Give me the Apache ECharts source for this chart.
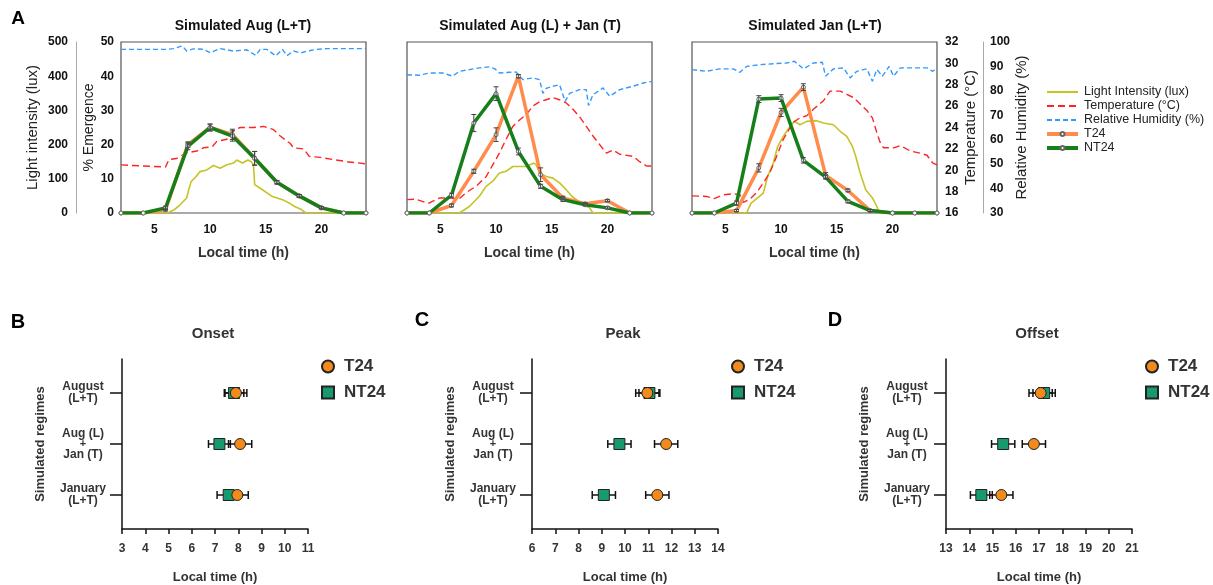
<!DOCTYPE html>
<html>
<head>
<meta charset="utf-8">
<script src="https://cdn.jsdelivr.net/npm/echarts@6.0.0/dist/echarts.min.js"></script>
<style>
html,body{margin:0;padding:0;background:#fff}
#chart{width:1213px;height:585px}
</style>
</head>
<body>
<div id="chart"></div>
<script>
// ---- panel A: emergence profiles, sampled every 2 h ----
const hours = [2, 4, 6, 8, 10, 12, 14, 16, 18, 20, 22, 24];

const augT24     = [0, 0, 1, 20, 25, 23, 16, 9, 5, 1.5, 0, 0];
const augT24Err  = [0, 0, 0.4, 0.8, 1, 1.5, 2, 0.5, 0.4, 0.3, 0, 0];
const augNT24    = [0, 0, 1.5, 19.5, 25, 22.5, 16, 9, 5, 1.5, 0, 0];
const augNT24Err = [0, 0, 0.5, 1, 1, 1.5, 2, 0.5, 0.4, 0.3, 0, 0];

const mixT24     = [0, 0, 2.2, 12.2, 22.9, 40, 11.2, 4.4, 2.7, 3.6, 0, 0];
const mixT24Err  = [0, 0, 0.4, 0.6, 2, 0.5, 2, 0.5, 0.3, 0.3, 0, 0];
const mixNT24    = [0, 0, 5.2, 26.3, 34.9, 18, 7.8, 3.9, 2.4, 1.5, 0, 0];
const mixNT24Err = [0, 0, 0.6, 2.5, 2, 1, 0.6, 0.5, 0.3, 0.3, 0, 0];

const janT24     = [0, 0, 0.7, 13.2, 29.4, 36.8, 11, 6.6, 0.7, 0, 0, 0];
const janT24Err  = [0, 0, 0.3, 1.2, 1.2, 1, 0.8, 0.4, 0.3, 0, 0, 0];
const janNT24    = [0, 0, 2.9, 33.3, 33.6, 15.4, 10.5, 3.4, 0.7, 0, 0, 0];
const janNT24Err = [0, 0, 0.6, 1, 1, 0.8, 0.6, 0.4, 0.3, 0, 0, 0];

// ---- panel A: environmental traces [hour, value] ----
const augLight = [[2,0],[6.2,0],[6.8,10],[7.3,24],[7.9,44],[8.1,70],[8.3,92],[8.7,105],[9.1,121],[9.7,126],[10.3,139],[10.9,131],[11.5,141],[12.1,146],[12.4,155],[12.9,146],[13.4,155],[13.7,150],[13.9,140],[14.0,83],[14.7,68],[15.6,48],[16.5,39],[17.1,29],[17.6,19],[18.2,10],[18.6,0],[24,0]];
const augTemp = [[2,20.5],[4,20.4],[6,20.3],[6.3,21],[7,21.1],[7.8,21.6],[8.8,21.8],[9.4,22.1],[10.2,22.2],[10.6,22.7],[11.5,22.9],[12.1,23.7],[12.7,24],[13.9,24],[14.8,24.1],[15.7,23.8],[16.3,23.2],[16.8,22.8],[17.2,22.5],[17.5,22.1],[18.4,22],[18.9,21.3],[19.9,21.2],[21.1,21],[22.3,20.8],[24,20.6]];
const augHum = [[2,97],[4,97],[6.1,97],[6.7,97.3],[7.5,98.4],[7.9,96.3],[8.5,97.2],[9.4,97],[10,95.6],[10.9,97.3],[12.1,96.3],[13.3,96.8],[14.1,94.5],[14.5,97],[15.1,97],[15.9,94.3],[16.5,97],[16.9,94.4],[17.5,96.3],[18.1,95.5],[18.7,96.3],[19.6,97],[20.5,97.3],[21.7,97.3],[24,97.3]];

const mixLight = [[2,0],[6.7,0],[7.6,19],[8.5,49],[9.1,78],[9.7,93],[10.3,117],[10.9,122],[11.5,136],[12.1,136],[12.7,136],[13.4,146],[13.6,141],[13.9,117],[14.5,107],[15.1,102],[15.7,88],[16.3,68],[16.8,49],[17.2,39],[17.8,24],[18.4,15],[18.7,0],[24,0]];
const mixTemp = [[2,17.25],[2.8,17.3],[3.9,16.9],[4.9,17.4],[6,17.4],[6.6,17.25],[7.3,17.9],[8.2,18.5],[9.1,19.4],[9.7,20.5],[10.3,21.6],[10.9,22.9],[11.5,24.1],[12.1,24.7],[12.7,25.2],[13.3,26],[13.9,26.4],[14.5,26.6],[15.1,26.8],[15.7,26.6],[16.3,26.3],[16.9,25.7],[17.5,25],[18.1,24.1],[18.7,23.2],[19.3,22.4],[19.9,21.6],[20.5,21.9],[21.1,21.5],[22.3,21.3],[22.9,20.8],[23.5,20.4],[24,20.4]];
const mixHum = [[2,86.6],[3.1,86.4],[4,87.3],[5.2,87.3],[6.1,86],[6.7,88],[7.6,88.7],[8.5,89.4],[9.4,89.8],[9.9,89],[10.3,87.3],[11.2,87.6],[11.8,87.7],[12.4,84.6],[13.3,85.3],[13.9,84.6],[14.2,79],[14.5,81],[15.1,81.9],[15.7,82.5],[16.2,75.7],[16.6,79],[17.5,80.5],[18.1,80.5],[18.3,74],[18.7,78.4],[19.6,81.2],[20.2,77.8],[21.1,80.5],[22.3,81.9],[23.2,83.2],[24,83.9]];

const janLight = [[2,0],[6.9,0],[7.3,29],[7.9,44],[8.4,58],[8.8,107],[9.3,146],[9.7,195],[10.2,224],[10.8,253],[11.2,268],[11.7,258],[12.3,268],[13.2,270],[13.8,263],[14.7,258],[15.3,239],[15.9,224],[16.4,195],[16.7,166],[17.1,117],[17.6,68],[18.2,44],[18.6,19],[18.8,0],[24,0]];
const janTemp = [[2,17.6],[3.3,17.55],[4,17.35],[4.8,17.7],[5.7,17.8],[6.3,17.7],[6.6,17],[7.2,17.3],[7.8,17.9],[8.4,18.8],[9,19.8],[9.6,21.3],[10.2,22.9],[11.1,24.5],[11.7,24.9],[12.3,25.1],[12.9,25.7],[13.8,26.5],[14.4,27.4],[15.3,27.4],[15.9,27.1],[16.5,26.8],[17.1,26.2],[17.7,25.6],[18.2,24.9],[18.6,23.5],[18.9,22.6],[19.2,22.1],[20.1,22.1],[20.7,22.3],[21.6,21.8],[22.5,21.6],[23.1,21.4],[23.6,20.7],[24,20.5]];
const janHum = [[2,88.7],[3.3,88],[4.5,89],[5.7,89],[6.3,87.6],[6.9,90],[8.1,90.7],[9.3,91.1],[10.5,91.4],[11.2,92.1],[12,89],[12.9,91.4],[13.7,91.7],[14,86],[14.7,89],[15.6,89.4],[16.2,85.3],[16.8,88],[17.7,89],[18.2,83.9],[18.6,88.7],[19.1,86],[19.7,90],[20.1,86],[20.7,89.4],[21.9,89.4],[23.1,89.4],[23.6,88],[24,89.4]];

// ---- panels B-D: onset / peak / offset (mean, s.e.) ----
const regimes = ['August\n(L+T)', 'Aug (L)\n+\nJan (T)', 'January\n(L+T)'];
const onsetT24   = [7.9, 8.08, 7.96];  const onsetT24Err   = [0.47, 0.5, 0.47];
const onsetNT24  = [7.82, 7.19, 7.59]; const onsetNT24Err  = [0.42, 0.47, 0.5];
const peakT24    = [10.96, 11.77, 11.39]; const peakT24Err  = [0.5, 0.5, 0.5];
const peakNT24   = [11.05, 9.76, 9.09];  const peakNT24Err = [0.45, 0.5, 0.5];
const offsetT24  = [17.07, 16.78, 15.38]; const offsetT24Err  = [0.5, 0.5, 0.5];
const offsetNT24 = [17.22, 15.46, 14.52]; const offsetNT24Err = [0.48, 0.5, 0.47];

const FONT = 'Liberation Sans, Arial, sans-serif';
const C_LIGHT = '#c4c426', C_TEMP = '#ff2424', C_HUM = '#3399ff';
const C_T24 = '#ff8c4d', C_NT24 = '#15801a';
const C_DOT_T = '#f28a1c', C_DOT_N = '#179a6c';

const panelsA = [
  {left: 121, env: [augLight, augTemp, augHum], t: augT24, te: augT24Err, n: augNT24, ne: augNT24Err},
  {left: 407, env: [mixLight, mixTemp, mixHum], t: mixT24, te: mixT24Err, n: mixNT24, ne: mixNT24Err},
  {left: 692, env: [janLight, janTemp, janHum], t: janT24, te: janT24Err, n: janNT24, ne: janNT24Err}
];
const panelsB = [
  {left: 122, min: 3,  t: onsetT24,  te: onsetT24Err,  n: onsetNT24,  ne: onsetNT24Err,  tag: 'B'},
  {left: 532, min: 6,  t: peakT24,   te: peakT24Err,   n: peakNT24,   ne: peakNT24Err,   tag: 'C'},
  {left: 946, min: 13, t: offsetT24, te: offsetT24Err, n: offsetNT24, ne: offsetNT24Err, tag: 'D'}
];

const grid = [], xAxis = [], yAxis = [], series = [];
const boldLbl = {fontFamily: FONT, fontWeight: 'bold', fontSize: 12, color: '#111'};
const nameStyle = {fontFamily: FONT, fontWeight: 'normal', fontSize: 15, color: '#222'};

function vErrSeries(xi, yi, means, errs) {
  return {
    type: 'custom', xAxisIndex: xi, yAxisIndex: yi, z: 6, silent: true,
    encode: {x: 0, y: [1, 2]},
    data: hours.map((h, i) => [h, means[i] - errs[i], means[i] + errs[i]]).filter((d, i) => errs[i] > 0),
    renderItem(params, api) {
      const lo = api.coord([api.value(0), api.value(1)]);
      const hi = api.coord([api.value(0), api.value(2)]);
      const w = 2.5, st = {stroke: '#444', lineWidth: 1};
      return {type: 'group', children: [
        {type: 'line', shape: {x1: lo[0], y1: lo[1], x2: hi[0], y2: hi[1]}, style: st},
        {type: 'line', shape: {x1: lo[0] - w, y1: lo[1], x2: lo[0] + w, y2: lo[1]}, style: st},
        {type: 'line', shape: {x1: hi[0] - w, y1: hi[1], x2: hi[0] + w, y2: hi[1]}, style: st}
      ]};
    }
  };
}

function hErrSeries(xi, yi, means, errs) {
  return {
    type: 'custom', xAxisIndex: xi, yAxisIndex: yi, z: 2, silent: true,
    encode: {x: [0, 1], y: 2},
    data: means.map((m, i) => [m - errs[i], m + errs[i], 2 + 3 * i]),
    renderItem(params, api) {
      const a = api.coord([api.value(0), api.value(2)]);
      const b = api.coord([api.value(1), api.value(2)]);
      const h = 4, st = {stroke: '#111', lineWidth: 1.5};
      return {type: 'group', children: [
        {type: 'line', shape: {x1: a[0], y1: a[1], x2: b[0], y2: b[1]}, style: st},
        {type: 'line', shape: {x1: a[0], y1: a[1] - h, x2: a[0], y2: a[1] + h}, style: st},
        {type: 'line', shape: {x1: b[0], y1: b[1] - h, x2: b[0], y2: b[1] + h}, style: st}
      ]};
    }
  };
}

panelsA.forEach((p, g) => {
  grid.push({left: p.left, top: 42, width: 245, height: 171, show: true,
    borderColor: '#555', borderWidth: 1.2, backgroundColor: 'transparent'});
  xAxis.push({gridIndex: g, type: 'value', min: 2, max: 24,
    axisLine: {show: false}, axisTick: {show: false}, splitLine: {show: false},
    axisLabel: Object.assign({customValues: [5, 10, 15, 20], margin: 11}, boldLbl),
    name: 'Local time (h)', nameLocation: 'middle', nameGap: 33,
    nameTextStyle: {fontFamily: FONT, fontWeight: 'bold', fontSize: 14, color: '#333'}});
  // emergence
  yAxis.push({gridIndex: g, type: 'value', position: 'left', min: 0, max: 50, interval: 10, show: g === 0,
    axisLine: {show: false}, axisTick: {show: false}, splitLine: {show: false},
    axisLabel: Object.assign({margin: 7}, boldLbl),
    name: '% Emergence', nameLocation: 'middle', nameGap: 25, nameRotate: 90,
    nameTextStyle: Object.assign({}, nameStyle, {fontSize: 14})});
  // light
  yAxis.push({gridIndex: g, type: 'value', position: 'left', offset: 45, min: 0, max: 500, interval: 100, show: g === 0,
    axisLine: {show: true, lineStyle: {color: '#aaa', width: 1}}, axisTick: {show: false}, splitLine: {show: false},
    axisLabel: Object.assign({margin: 8}, boldLbl),
    name: 'Light intensity (lux)', nameLocation: 'middle', nameGap: 36, nameRotate: 90, nameTextStyle: nameStyle});
  // temperature
  yAxis.push({gridIndex: g, type: 'value', position: 'right', min: 16, max: 32, interval: 2, show: g === 2,
    axisLine: {show: false}, axisTick: {show: false}, splitLine: {show: false},
    axisLabel: Object.assign({margin: 8}, boldLbl),
    name: 'Temperature (°C)', nameLocation: 'middle', nameGap: 26, nameRotate: 90, nameTextStyle: nameStyle});
  // humidity
  yAxis.push({gridIndex: g, type: 'value', position: 'right', offset: 46, min: 30, max: 100, interval: 10, show: g === 2,
    axisLine: {show: true, lineStyle: {color: '#aaa', width: 1}}, axisTick: {show: false}, splitLine: {show: false},
    axisLabel: Object.assign({margin: 7}, boldLbl),
    name: 'Relative Humidity (%)', nameLocation: 'middle', nameGap: 27, nameRotate: 90, nameTextStyle: nameStyle});

  const y0 = 4 * g;
  series.push({name: 'Light Intensity (lux)', type: 'line', xAxisIndex: g, yAxisIndex: y0 + 1, data: p.env[0],
    symbol: 'none', lineStyle: {color: C_LIGHT, width: 1.6}, itemStyle: {color: C_LIGHT}, z: 2});
  series.push({name: 'Temperature (°C)', type: 'line', xAxisIndex: g, yAxisIndex: y0 + 2, data: p.env[1],
    symbol: 'none', lineStyle: {color: C_TEMP, width: 1.4, type: [7, 4]}, itemStyle: {color: C_TEMP}, z: 2});
  series.push({name: 'Relative Humidity (%)', type: 'line', xAxisIndex: g, yAxisIndex: y0 + 3, data: p.env[2],
    symbol: 'none', lineStyle: {color: C_HUM, width: 1.4, type: [5, 3]}, itemStyle: {color: C_HUM}, z: 2});
  series.push({name: 'T24', type: 'line', xAxisIndex: g, yAxisIndex: y0, data: hours.map((h, i) => [h, p.t[i]]),
    symbol: 'circle', symbolSize: 4, lineStyle: {color: C_T24, width: 3.5},
    itemStyle: {color: '#fff', borderColor: '#666', borderWidth: 1}, z: 3});
  series.push({name: 'NT24', type: 'line', xAxisIndex: g, yAxisIndex: y0, data: hours.map((h, i) => [h, p.n[i]]),
    symbol: 'circle', symbolSize: 4, lineStyle: {color: C_NT24, width: 3.5},
    itemStyle: {color: '#fff', borderColor: '#666', borderWidth: 1}, z: 4});
  series.push(vErrSeries(g, y0, p.t, p.te));
  series.push(vErrSeries(g, y0, p.n, p.ne));
});

const legends = [{
  orient: 'vertical', left: 1045, top: 85, padding: 0, itemWidth: 31, itemHeight: 5, itemGap: 0,
  textStyle: {fontFamily: FONT, fontSize: 12.5, color: '#222', lineHeight: 14, padding: [0, 0, 0, 1]},
  data: [
    {name: 'Light Intensity (lux)', itemStyle: {opacity: 0}, lineStyle: {width: 2}},
    {name: 'Temperature (°C)', itemStyle: {opacity: 0}, lineStyle: {width: 2}},
    {name: 'Relative Humidity (%)', itemStyle: {opacity: 0}, lineStyle: {width: 2}},
    {name: 'T24', lineStyle: {width: 4}},
    {name: 'NT24', lineStyle: {width: 4}}
  ],
  selectedMode: false
}];

panelsB.forEach((p, k) => {
  const gi = 3 + k, yi = 12 + k;
  grid.push({left: p.left, top: 359, width: 186, height: 171});
  xAxis.push({gridIndex: gi, type: 'value', min: p.min, max: p.min + 8, interval: 1,
    axisLine: {show: true, onZero: false, lineStyle: {color: '#111', width: 1.5}},
    axisTick: {show: true, length: 5, lineStyle: {color: '#111', width: 1.5}},
    splitLine: {show: false},
    axisLabel: {fontFamily: FONT, fontWeight: 'bold', fontSize: 12, color: '#333', margin: 14},
    name: 'Local time (h)', nameLocation: 'middle', nameGap: 42,
    nameTextStyle: {fontFamily: FONT, fontWeight: 'bold', fontSize: 13, color: '#333'}});
  yAxis.push({gridIndex: gi, type: 'value', min: 0, max: 10, inverse: true,
    axisLine: {show: true, onZero: false, lineStyle: {color: '#111', width: 1.5}},
    axisTick: {show: true, length: 12, customValues: [2, 5, 8], lineStyle: {color: '#111', width: 1.5}},
    splitLine: {show: false},
    axisLabel: {customValues: [2, 5, 8], margin: 39, align: 'center',
      formatter: v => regimes[(v - 2) / 3].split('\n').map(s => s === '+' ? '{p|+}' : '{a|' + s + '}').join('\n'),
      rich: {
        a: {fontFamily: FONT, fontWeight: 'bold', fontSize: 12, color: '#333', lineHeight: 12, align: 'center'},
        p: {fontFamily: FONT, fontWeight: 'bold', fontSize: 11, color: '#333', lineHeight: 9, align: 'center'}
      }},
    name: 'Simulated regimes', nameLocation: 'middle', nameGap: 75, nameRotate: 90,
    nameTextStyle: {fontFamily: FONT, fontWeight: 'bold', fontSize: 13, color: '#333'}});
  series.push(hErrSeries(gi, yi, p.n, p.ne));
  series.push(hErrSeries(gi, yi, p.t, p.te));
  series.push({name: 'NT24-' + p.tag, type: 'scatter', xAxisIndex: gi, yAxisIndex: yi, z: 3,
    symbol: 'rect', symbolSize: 11, itemStyle: {color: C_DOT_N, borderColor: '#222', borderWidth: 1, opacity: 1},
    data: p.n.map((m, i) => [m, 2 + 3 * i])});
  series.push({name: 'T24-' + p.tag, type: 'scatter', xAxisIndex: gi, yAxisIndex: yi, z: 4,
    symbol: 'circle', symbolSize: 11, itemStyle: {color: C_DOT_T, borderColor: '#222', borderWidth: 1, opacity: 1},
    data: p.t.map((m, i) => [m, 2 + 3 * i])});
  legends.push({orient: 'vertical', left: p.left + 199, top: 357, padding: 0, itemWidth: 12, itemHeight: 12, itemGap: 7,
    selectedMode: false, formatter: n => n.split('-')[0],
    textStyle: {fontFamily: FONT, fontWeight: 'bold', fontSize: 17, color: '#333', lineHeight: 19, padding: [0, 0, 0, 5]},
    data: ['T24-' + p.tag, 'NT24-' + p.tag]});
});

function txt(x, y, text, size, color) {
  return {type: 'text', x: x, y: y, silent: true,
    style: {text: text, fontFamily: FONT, fontWeight: 'bold', fontSize: size, fill: color || '#111',
      textAlign: 'center', textVerticalAlign: 'middle'}};
}

const graphic = [
  txt(18, 19, 'A', 19, '#000'),
  txt(243, 26, 'Simulated Aug (L+T)', 14),
  txt(530, 26, 'Simulated Aug (L) + Jan (T)', 14),
  txt(815, 26, 'Simulated Jan (L+T)', 14),
  txt(18, 322, 'B', 20, '#000'),
  txt(422, 320, 'C', 20, '#000'),
  txt(835, 320, 'D', 20, '#000'),
  txt(213, 334, 'Onset', 15, '#333'),
  txt(623, 334, 'Peak', 15, '#333'),
  txt(1037, 334, 'Offset', 15, '#333')
];

const chart = echarts.init(document.getElementById('chart'), null, {renderer: 'canvas'});
chart.setOption({
  animation: false,
  backgroundColor: '#fff',
  textStyle: {fontFamily: FONT},
  grid: grid, xAxis: xAxis, yAxis: yAxis, series: series,
  legend: legends, graphic: graphic
});
</script>
</body>
</html>
